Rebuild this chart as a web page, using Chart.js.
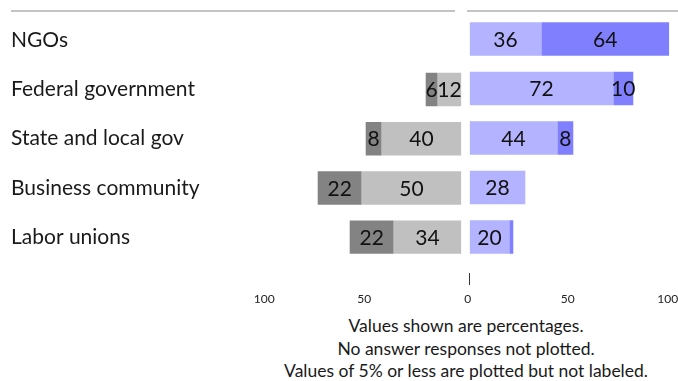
<!DOCTYPE html>
<html lang="en">
<head>
<meta charset="UTF-8">
<title>Views of institutions</title>
<script src="https://cdn.jsdelivr.net/npm/chart.js"></script>
<style>
  body {
    margin: 0;
    width: 678px;
    height: 381px;
    overflow: hidden;
    position: relative;
    background: #fff;
    font-family: Lato, sans-serif;
    color: #1a1a1a;
  }
  .rule { position: absolute; top: 10px; height: 2px; background: #c4c4c4; }
  #left { position: absolute; left: 0; top: 0; }
  #right { position: absolute; left: 462px; top: 0; }
  .note {
    position: absolute;
    left: 466px;
    font-size: 17.5px;
    line-height: 22px;
    white-space: nowrap;
    transform: translateX(-50%);
  }
</style>
</head>
<body>
  <div class="rule" style="left:11px;width:444px"></div>
  <div class="rule" style="left:467px;width:211px"></div>
  <canvas id="left" width="470" height="310"></canvas>
  <canvas id="right" width="240" height="310"></canvas>
  <div class="note" style="top:315px">Values shown are percentages.</div>
  <div class="note" style="top:338px">No answer responses not plotted.</div>
  <div class="note" style="top:360px">Values of 5% or less are plotted but not labeled.</div>
<script>
  const categories = ['NGOs', 'Federal government', 'State and local gov', 'Business community', 'Labor unions'];
  // negative side, nearest zero first
  const leftLight = [0, 12, 40, 50, 34];
  const leftDark = [0, 6, 8, 22, 22];
  // positive side
  const rightLight = [36, 72, 44, 28, 20];
  const rightDark = [64, 10, 8, 0, 2];
  const axisTicks = [0, 50, 100];

  // write the value in the middle of each segment (skip small ones)
  const valueLabels = {
    id: 'valueLabels',
    afterDatasetsDraw(chart) {
      const ctx = chart.ctx;
      ctx.save();
      ctx.font = '21px Lato, sans-serif';
      ctx.fillStyle = '#111';
      ctx.textAlign = 'center';
      ctx.textBaseline = 'middle';
      chart.data.datasets.forEach((ds, i) => {
        chart.getDatasetMeta(i).data.forEach((bar, j) => {
          const v = ds.data[j];
          if (v <= 5) return;
          const p = bar.getCenterPoint();
          ctx.fillText(String(v), p.x, p.y + 1);
        });
      });
      ctx.restore();
    }
  };

  const tickFont = { size: 12, family: 'Lato, sans-serif' };

  function xScale(ticks, grid) {
    return {
      stacked: true,
      min: 0,
      max: 100,
      afterFit: s => { s.height = 48.25; },
      afterBuildTicks: s => { s.ticks = axisTicks.map(v => ({ value: v })); },
      ticks: Object.assign({ font: tickFont, color: '#222', padding: 0, maxRotation: 0 }, ticks),
      grid: Object.assign({ drawOnChartArea: false, color: 'transparent', tickColor: 'transparent', tickLength: 30 }, grid),
      border: { display: false }
    };
  }

  new Chart(document.getElementById('left'), {
    type: 'bar',
    data: {
      labels: categories,
      datasets: [
        { label: 'Somewhat', data: leftLight, backgroundColor: '#c0c0c0' },
        { label: 'Very', data: leftDark, backgroundColor: '#838383' }
      ]
    },
    options: {
      indexAxis: 'y',
      responsive: false,
      animation: false,
      layout: { padding: { left: 11, top: 14.25, right: 8.3, bottom: 0 } },
      datasets: { bar: { barPercentage: 0.68, categoryPercentage: 1 } },
      plugins: { legend: { display: false }, tooltip: { enabled: false } },
      scales: {
        x: Object.assign(xScale({ labelOffset: 2.5, callback: v => v === 0 ? '' : v }, {}), { reverse: true }),
        y: {
          stacked: true,
          afterFit: s => { s.width = 250.7; },
          ticks: { crossAlign: 'far', font: { size: 21, family: 'Lato, sans-serif' }, color: '#1a1a1a' },
          grid: { display: false },
          border: { display: false }
        }
      }
    },
    plugins: [valueLabels]
  });

  new Chart(document.getElementById('right'), {
    type: 'bar',
    data: {
      labels: categories,
      datasets: [
        { label: 'Somewhat', data: rightLight, backgroundColor: '#b3b3ff' },
        { label: 'Very', data: rightDark, backgroundColor: '#8080ff' }
      ]
    },
    options: {
      indexAxis: 'y',
      responsive: false,
      animation: false,
      layout: { padding: { left: 7.3, top: 14.25, right: 32.7, bottom: 0 } },
      datasets: { bar: { barPercentage: 0.68, categoryPercentage: 1 } },
      plugins: { legend: { display: false }, tooltip: { enabled: false } },
      scales: {
        x: xScale({ labelOffset: -1.5 }, {
          tickWidth: 1,
          tickColor: c => (c.tick && c.tick.value === 0) ? '#333' : 'transparent',
          tickBorderDash: [0, 11, 12, 100]
        }),
        y: { stacked: true, display: false }
      }
    },
    plugins: [valueLabels]
  });
</script>
</body>
</html>
